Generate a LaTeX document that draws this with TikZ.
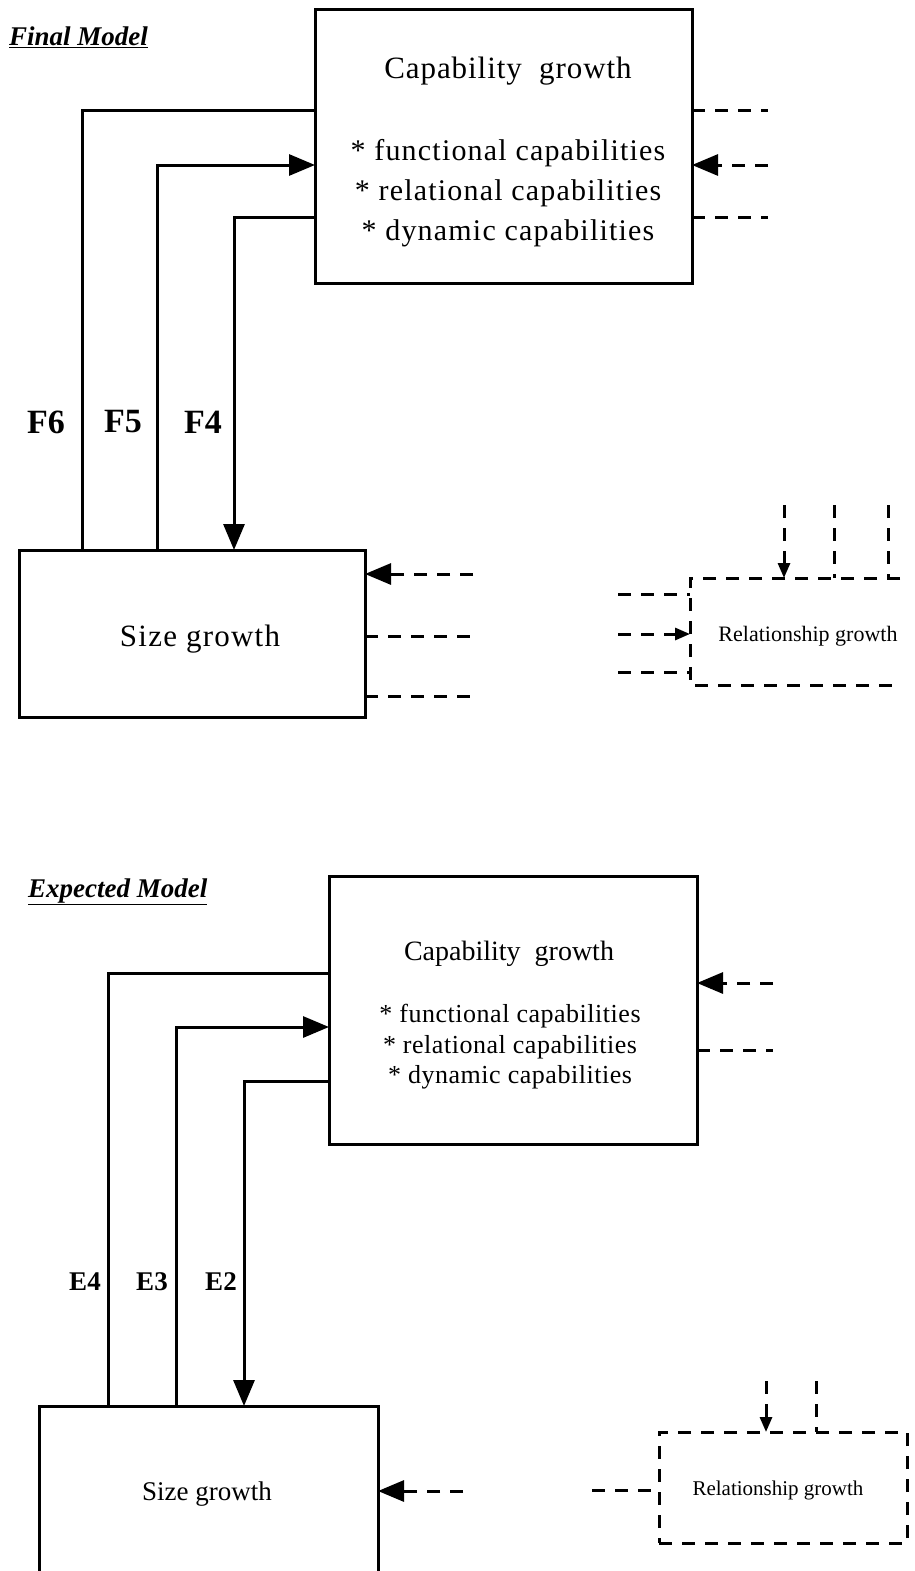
\documentclass[tikz,border=0pt]{standalone}
\usepackage{fontspec}
\setmainfont{Liberation Serif}
\usetikzlibrary{arrows.meta,calc}
\begin{document}
\begin{tikzpicture}[x=1pt,y=-1pt,
  solidbox/.style={draw, line width=3pt, outer sep=0pt, inner sep=0pt},
  ghost/.style={draw=none, outer sep=0pt, inner sep=0pt},
  link/.style={line width=3pt},
  dline/.style={line width=3pt, dash pattern=on 13pt off 10pt},
  big/.style={-{Triangle[length=26pt,width=21pt]}},
  small/.style={-{Triangle[length=15pt,width=12pt]}},
  flabel/.style={font=\fontsize{34}{36}\selectfont\bfseries},
  elabel/.style={font=\fontsize{27}{29}\selectfont\bfseries},
  title/.style={font=\fontsize{27}{29}\selectfont\bfseries\itshape, anchor=west, inner sep=0pt}
]
\useasboundingbox (0,0) rectangle (914,1571);

% ---------------- Final Model ----------------
\node[title] (tA) at (9,37) {\underline{Final Model}};

\node[solidbox, minimum width=377pt, minimum height=273pt] (capA) at (503.5,146.5) {};
\node[font=\fontsize{31}{33}\selectfont\addfontfeature{LetterSpace=3}] (capAt) at (508,71) {Capability\ \ growth};
\node[font=\fontsize{30}{40}\selectfont\addfontfeature{LetterSpace=4}, align=center] (capAl) at (508,193)
  {* functional capabilities\\* relational capabilities\\* dynamic capabilities};

\node[solidbox, minimum width=346pt, minimum height=167pt] (sizeA) at (192,633.5) {};
\node[font=\fontsize{31}{33}\selectfont\addfontfeature{LetterSpace=4}] (sizeAt) at (200,639) {Size growth};

\node[ghost, minimum width=210pt, minimum height=107pt] (relA) at (795,631.5) {};
\draw[dline] (relA.north east) -- (relA.north west) -- (relA.south west) -- (relA.south east);
\node[font=\fontsize{22}{24}\selectfont] (relAt) at (808,636) {Relationship growth};

% feedback links
\draw[link] (capA.west |- 0,110) -| (sizeA.north -| 82,0);
\draw[link,big] (sizeA.north -| 157,0) |- (capA.west |- 0,165);
\draw[link,big] (capA.west |- 0,217) -| (sizeA.north -| 234,0);
\node[flabel] (f6) at (46,422) {F6};
\node[flabel] (f5) at (123,422) {F5};
\node[flabel] (f4) at (203,422) {F4};

% outside inputs of capability box
\coordinate (cA1) at (768,110);
\coordinate (cA2) at (768,165);
\coordinate (cA3) at (768,217);
\draw[dline] (capA.east |- cA1) -- (cA1);
\draw[dline,big] (cA2) -- (capA.east |- cA2);
\draw[dline] (capA.east |- cA3) -- (cA3);

% outside inputs of size box
\coordinate (sA1) at (473,574);
\coordinate (sA2) at (473,636);
\coordinate (sA3) at (473,696);
\draw[dline,big] (sA1) -- (sizeA.east |- sA1);
\draw[dline] (sizeA.east |- sA2) -- (sA2);
\draw[dline] (sizeA.east |- sA3) -- (sA3);

% inputs of relationship box
\coordinate (rAl1) at (618,594);
\coordinate (rAl2) at (618,634);
\coordinate (rAl3) at (618,672);
\draw[dline] (rAl1) -- (relA.west |- rAl1);
\draw[dline,small] (rAl2) -- (relA.west |- rAl2);
\draw[dline] (rAl3) -- (relA.west |- rAl3);
\coordinate (rAt1) at (784,505);
\coordinate (rAt2) at (834,505);
\coordinate (rAt3) at (888,505);
\draw[dline,small] (rAt1) -- (relA.north -| rAt1);
\draw[dline] (rAt2) -- (relA.north -| rAt2);
\draw[dline] (rAt3) -- (relA.north -| rAt3);

% ---------------- Expected Model ----------------
\node[title] (tB) at (28,892) {\underline{Expected Model}};

\node[solidbox, minimum width=368pt, minimum height=268pt] (capB) at (513,1010) {};
\node[font=\fontsize{28}{30}\selectfont] (capBt) at (509,954) {Capability\ \ growth};
\node[font=\fontsize{26}{30.5}\selectfont\addfontfeature{LetterSpace=2}, align=center] (capBl) at (510,1047)
  {* functional capabilities\\* relational capabilities\\* dynamic capabilities};

\node[ghost, minimum width=339pt, minimum height=165pt] (sizeB) at (208.5,1488.5) {};
\draw[link] (sizeB.south west) -- (sizeB.north west) -- (sizeB.north east) -- (sizeB.south east);
\node[font=\fontsize{27}{29}\selectfont] (sizeBt) at (207,1494) {Size growth};

\node[draw, dline, outer sep=0pt, minimum width=248pt, minimum height=111pt] (relB) at (783,1487.5) {};
\node[font=\fontsize{21}{23}\selectfont] (relBt) at (778,1490) {Relationship growth};

\draw[link] (capB.west |- 0,973) -| (sizeB.north -| 108,0);
\draw[link,big] (sizeB.north -| 176,0) |- (capB.west |- 0,1027);
\draw[link,big] (capB.west |- 0,1081) -| (sizeB.north -| 244,0);
\node[elabel] (e4) at (85,1282) {E4};
\node[elabel] (e3) at (152,1282) {E3};
\node[elabel] (e2) at (221,1282) {E2};

\coordinate (cB1) at (773,983);
\coordinate (cB2) at (773,1050);
\draw[dline,big] (cB1) -- (capB.east |- cB1);
\draw[dline] (capB.east |- cB2) -- (cB2);

\coordinate (sB1) at (463,1491);
\draw[dline,big] (sB1) -- (sizeB.east |- sB1);

\coordinate (rBl1) at (592,1490);
\draw[dline] (rBl1) -- (relB.west |- rBl1);
\coordinate (rBt1) at (766,1381);
\coordinate (rBt2) at (816,1381);
\draw[dline,small] (rBt1) -- (relB.north -| rBt1);
\draw[dline] (rBt2) -- (relB.north -| rBt2);
\end{tikzpicture}
\end{document}
